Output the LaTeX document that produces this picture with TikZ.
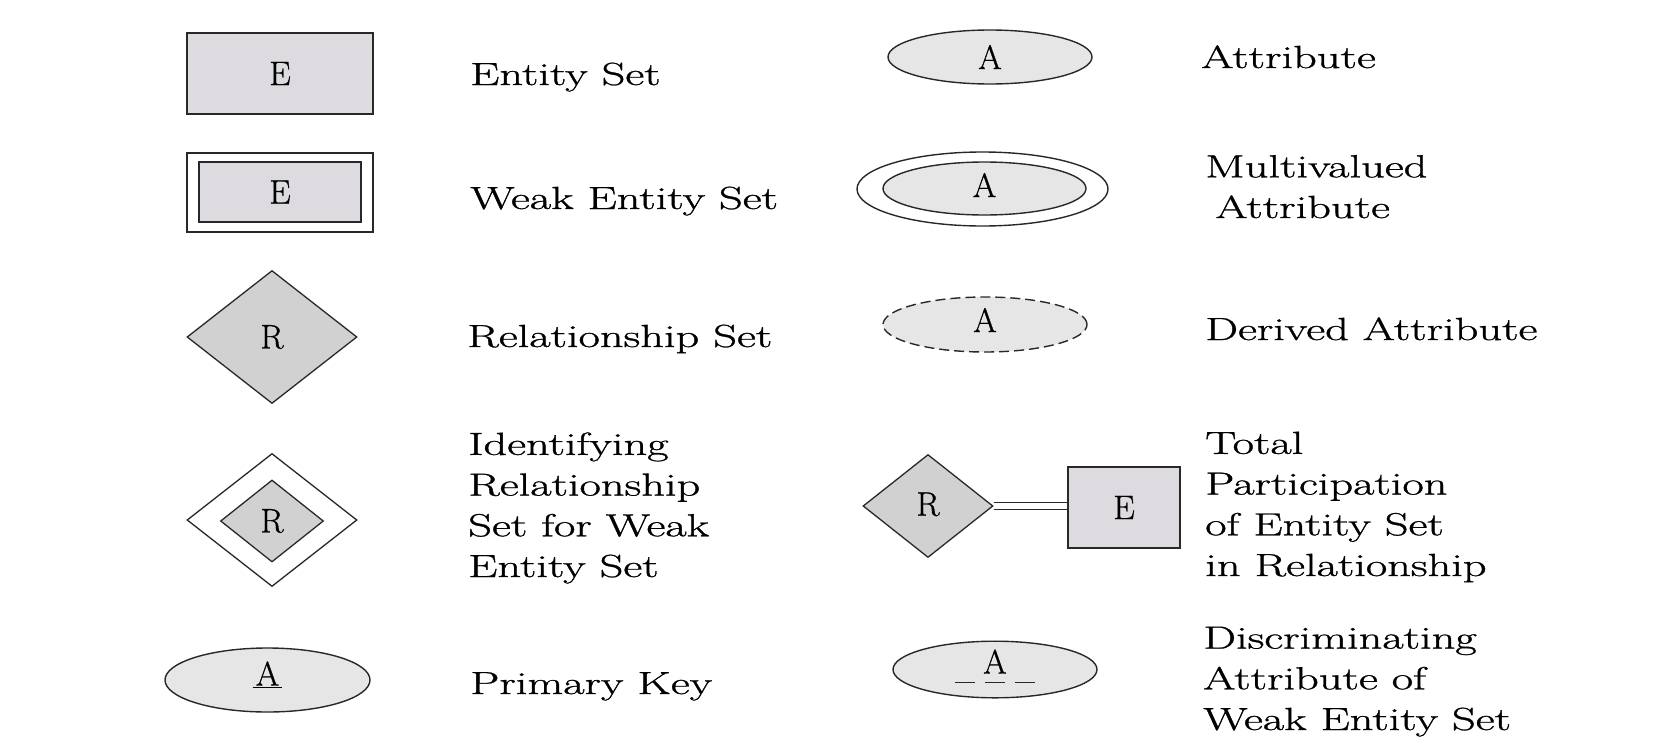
\documentclass[tikz,border=0pt]{standalone}
\usepackage{fontspec}
\newfontfamily\heavylm{Latin Modern Roman}[FakeBold=0.8]
\usetikzlibrary{shapes.geometric}
\definecolor{entfill}{RGB}{221,219,223}
\definecolor{relfill}{RGB}{209,209,209}
\definecolor{attfill}{RGB}{230,230,230}
\definecolor{edge}{RGB}{40,40,40}
\begin{document}
\begin{tikzpicture}[x=1pt,y=-1pt,
  shapefont/.style={font=\heavylm\fontsize{34}{40}\selectfont},
  ent/.style={draw=edge, line width=1.8pt, fill=entfill, rectangle, inner sep=0pt, shapefont},
  entout/.style={draw=edge, line width=1.8pt, fill=white, rectangle, inner sep=0pt},
  rel/.style={draw=edge, line width=1.3pt, fill=relfill, diamond, inner sep=0pt, shapefont},
  relout/.style={draw=edge, line width=1.3pt, fill=white, diamond, inner sep=0pt},
  att/.style={draw=edge, line width=1.4pt, fill=attfill, ellipse, inner sep=0pt, shapefont, minimum width=204pt, minimum height=54pt},
  attout/.style={draw=edge, line width=1.4pt, fill=white, ellipse, inner sep=0pt},
  lbl/.style={anchor=base west, align=left, inner sep=0pt, font=\heavylm\fontsize{32}{40.7}\selectfont, xscale=1.45, transform shape}]
\useasboundingbox[fill=white] (0,0) rectangle (1665,750);

% ---- left column shapes ----
\node[ent, minimum width=186pt, minimum height=81pt] (e1) at (280,73.5) {E};
\node[entout, minimum width=186pt, minimum height=79pt] (w1o) at (280,192.5) {};
\node[ent, minimum width=162pt, minimum height=60pt] (w1) at (280,192) {E};
\node[rel, minimum width=170pt, minimum height=133pt] (r1) at (272,337) {R};
\node[relout, minimum width=170pt, minimum height=133pt] (r2o) at (272,520) {};
\node[rel, minimum width=103pt, minimum height=82pt] (r2) at (272,521) {R};
\node[att, minimum width=205pt, minimum height=64pt, text depth=13pt] (pk) at (267.5,680) {\underline{\kern3pt A\kern3pt}};

% ---- right column shapes ----
\node[att] (a1) at (990,57) {A};
\node[attout, minimum width=251pt, minimum height=74pt] (mvo) at (982.5,189) {};
\node[att, minimum width=203pt, minimum height=53pt, text depth=7pt] (mv) at (984.5,188.5) {A};
\node[att, dash pattern=on 10pt off 5pt, minimum height=55pt, text depth=9pt] (der) at (985,324.5) {A};
\node[rel, minimum width=130pt, minimum height=103pt, text depth=4pt] (tr) at (928,506) {R};
\node[ent, minimum width=112pt, minimum height=81pt] (te) at (1124,507.5) {E};
\draw[edge, line width=1.4pt, double, double distance=6pt] (tr.east) -- (te.west |- tr.east);
\node[att, minimum height=55pt, text depth=16pt] (disc) at (995,669.5) {A};
\coordinate (du1) at ([xshift=-40pt,yshift=-13pt]disc.center);
\coordinate (du2) at ([xshift=40pt,yshift=-13pt]disc.center);
\draw[edge, line width=1.5pt, dash pattern=on 20pt off 10pt] (du1) -- (du2);

% ---- labels (anchor = baseline of last line) ----
\node[lbl] (l1) at (470,85) {Entity Set};
\node[lbl] (l2) at (470,209) {Weak Entity Set};
\node[lbl] (l3) at (467,347) {Relationship Set};
\node[lbl] (l4) at (468,577) {Identifying\\Relationship\\Set for Weak\\Entity Set};
\node[lbl] (l5) at (470,694) {Primary Key};
\node[lbl] (l6) at (1201,68) {Attribute};
\node[lbl] (l7) at (1205,218) {Multivalued\\\hspace*{7pt}Attribute};
\node[lbl] (l8) at (1205,340) {Derived Attribute};
\node[lbl] (l9) at (1205,576) {Total\\Participation\\of Entity Set\\in Relationship};
\node[lbl] (l10) at (1203,730) {Discriminating\\Attribute of\\Weak Entity Set};
\end{tikzpicture}
\end{document}
